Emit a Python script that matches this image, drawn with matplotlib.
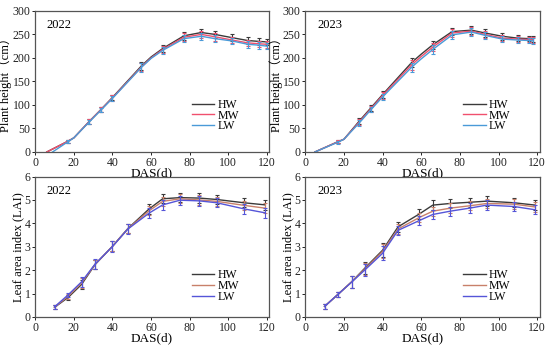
import numpy as np
import matplotlib
matplotlib.use('Agg')
import matplotlib.pyplot as plt

plt.rcParams['font.family'] = ['Liberation Serif', 'Noto Sans CJK SC', 'DejaVu Serif']

labels = ['HW', 'MW', 'LW']

# plant height 2022
ph22_x = [17, 20, 28, 34, 40, 55, 60, 66, 77, 86, 93, 102, 110, 116, 120]
ph22_hw = [23, 30, 65, 90, 116, 183, 202, 220, 247, 254, 250, 243, 237, 235, 234]
ph22_mw = [23, 30, 65, 90, 115, 181, 200, 218, 244, 250, 245, 238, 232, 230, 229]
ph22_lw = [22, 30, 64, 89, 114, 180, 199, 216, 241, 246, 241, 236, 229, 227, 225]
ph22_err = [3, 0, 5, 5, 6, 9, 0, 8, 8, 8, 8, 7, 7, 7, 7]
ph22_start = [(6, 0), (6, 0), (9, 0)]

# plant height 2023
ph23_x = [17, 20, 28, 34, 40, 55, 60, 66, 76, 86, 93, 102, 110, 116, 118]
ph23_hw = [22, 27, 66, 94, 122, 190, 208, 228, 256, 259, 253, 246, 242, 241, 240]
ph23_mw = [22, 27, 64, 92, 120, 185, 203, 223, 253, 257, 250, 242, 240, 239, 238]
ph23_lw = [21, 27, 62, 90, 117, 180, 198, 218, 249, 255, 248, 240, 238, 237, 236]
ph23_err = [3, 0, 6, 6, 7, 10, 0, 9, 8, 8, 8, 7, 6, 6, 6]
ph23_start = [(5, 0), (5, 0), (5, 0)]

# LAI 2022
lai22_x = [10, 17, 24, 31, 40, 48, 59, 66, 75, 85, 94, 108, 119]
lai22_hw = [0.41, 0.83, 1.39, 2.24, 3.02, 3.78, 4.62, 5.05, 5.10, 5.08, 5.02, 4.88, 4.79]
lai22_mw = [0.42, 0.88, 1.45, 2.25, 3.02, 3.77, 4.54, 4.94, 5.05, 5.00, 4.94, 4.77, 4.65]
lai22_lw = [0.43, 0.94, 1.50, 2.26, 3.01, 3.76, 4.44, 4.79, 4.99, 4.96, 4.88, 4.62, 4.45]
lai22_err = [0.08, 0.1, 0.2, 0.2, 0.22, 0.2, 0.2, 0.2, 0.2, 0.2, 0.2, 0.2, 0.2]

# LAI 2023
lai23_x = [10, 17, 24, 31, 40, 48, 59, 66, 75, 85, 94, 108, 119]
lai23_hw = [0.45, 0.97, 1.50, 2.10, 2.85, 3.85, 4.40, 4.78, 4.85, 4.90, 4.95, 4.88, 4.78]
lai23_mw = [0.45, 0.97, 1.50, 2.06, 2.80, 3.76, 4.25, 4.52, 4.65, 4.75, 4.85, 4.82, 4.70]
lai23_lw = [0.45, 0.97, 1.49, 2.02, 2.72, 3.70, 4.12, 4.38, 4.52, 4.65, 4.78, 4.72, 4.58]
lai23_err = [0.1, 0.1, 0.25, 0.25, 0.3, 0.2, 0.2, 0.2, 0.2, 0.2, 0.2, 0.2, 0.2]

top_colors = ['#3a3a3a', '#f0506e', '#4a9ad8']
bot_colors = ['#3a3a3a', '#c8806a', '#5555d8']

fig = plt.figure(figsize=(5.5, 3.51), dpi=100)
positions = [
    [0.064, 0.567, 0.425, 0.402],
    [0.555, 0.567, 0.427, 0.402],
    [0.064, 0.097, 0.425, 0.400],
    [0.555, 0.097, 0.427, 0.400],
]


def style(ax, ylabel, year, ylim, yticks, xmax, leg_y):
    ax.set_xlim(0, xmax)
    ax.set_ylim(*ylim)
    ax.set_xticks([0, 20, 40, 60, 80, 100, 120])
    ax.set_yticks(yticks)
    ax.tick_params(direction='out', length=2.5, width=0.7, labelsize=8.5, pad=1, colors='#222222')
    for s in ax.spines.values():
        s.set_color('#555555')
        s.set_linewidth(0.9)
    ax.set_xlabel('DAS(d)', fontsize=9.5, labelpad=-1)
    ax.set_ylabel(ylabel, fontsize=9, labelpad=0)
    ax.text(0.05, 0.9, year, transform=ax.transAxes, fontsize=9, va='center', ha='left')
    ax.legend(loc='lower right', bbox_to_anchor=(0.91, leg_y), frameon=False, fontsize=8.5,
              handlelength=1.9, handletextpad=0.3, labelspacing=-0.1, borderpad=0.2)


def draw_height(ax, x, series, err, starts, colors):
    for (y, c, lab, st) in zip(series, colors, labels, starts):
        xs = [st[0]] + list(x)
        ys = [st[1]] + list(y)
        ax.plot(xs, ys, color=c, lw=1.0, label=lab)
        mask = np.array(err) > 0
        ax.errorbar(np.array(x)[mask], np.array(y)[mask], yerr=np.array(err)[mask],
                    fmt='none', ecolor=c, elinewidth=0.8, capsize=1.5, capthick=0.8)


def draw_lai(ax, x, series, err, colors):
    for (y, c, lab) in zip(series, colors, labels):
        ax.plot(x, y, color=c, lw=1.0, label=lab)
        ax.errorbar(x, y, yerr=err, fmt='none', ecolor=c, elinewidth=0.8,
                    capsize=1.5, capthick=0.8)


ax1 = fig.add_axes(positions[0])
draw_height(ax1, ph22_x, [ph22_hw, ph22_mw, ph22_lw], ph22_err, ph22_start, top_colors)
style(ax1, 'Plant height（cm）', '2022', (0, 300), [0, 50, 100, 150, 200, 250, 300], 121, 0.08)

ax2 = fig.add_axes(positions[1])
draw_height(ax2, ph23_x, [ph23_hw, ph23_mw, ph23_lw], ph23_err, ph23_start, top_colors)
style(ax2, 'Plant height（cm）', '2023', (0, 300), [0, 50, 100, 150, 200, 250, 300], 121.5, 0.08)

ax3 = fig.add_axes(positions[2])
draw_lai(ax3, lai22_x, [lai22_hw, lai22_mw, lai22_lw], lai22_err, bot_colors)
style(ax3, 'Leaf area index (LAI)', '2022', (0, 6), [0, 1, 2, 3, 4, 5, 6], 121, 0.04)

ax4 = fig.add_axes(positions[3])
draw_lai(ax4, lai23_x, [lai23_hw, lai23_mw, lai23_lw], lai23_err, bot_colors)
style(ax4, 'Leaf area index (LAI)', '2023', (0, 6), [0, 1, 2, 3, 4, 5, 6], 121.5, 0.04)

fig.savefig('out.png', dpi=100)
